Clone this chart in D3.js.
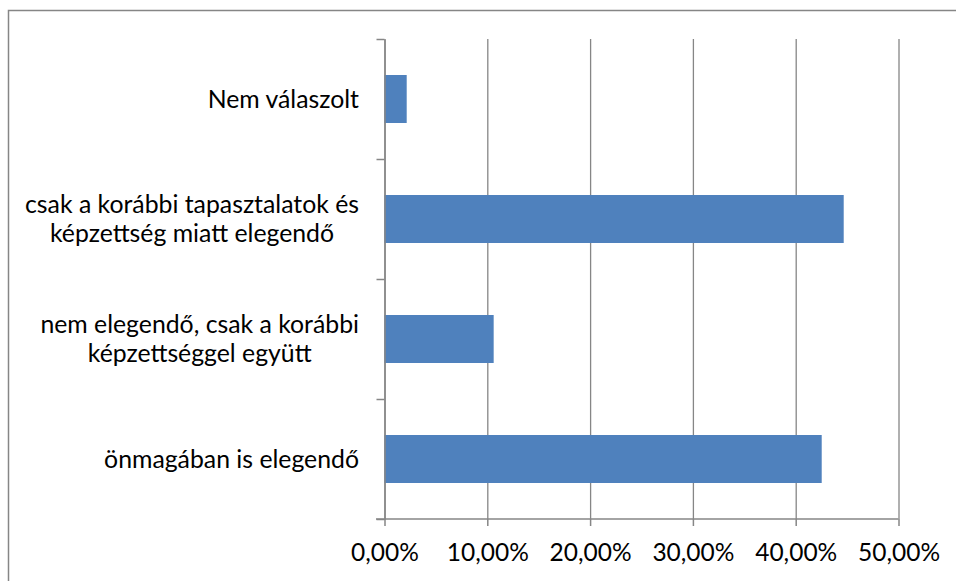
<!DOCTYPE html>
<html>
<head>
<meta charset="utf-8">
<script src="https://cdn.jsdelivr.net/npm/d3@7"></script>
<style>
  body { margin: 0; background: #fff; }
  svg { display: block; }
</style>
</head>
<body>
<div id="chart"></div>
<script>
const w = 956,
    h = 581,
    plotLeft = 384.5,
    plotRight = 898.5,
    plotTop = 39,
    plotBottom = 519,
    axisColor = '#868686',
    barColor = '#4f81bd',
    font = 'Lato, "Liberation Sans", sans-serif';

// data, top to bottom as in the picture
const categories = [
    ['Nem válaszolt'],
    ['csak a korábbi tapasztalatok és', 'képzettség miatt elegendő'],
    ['nem elegendő, csak a korábbi', 'képzettséggel együtt'],
    ['önmagában is elegendő']
];
const values = [0.0216, 0.4467, 0.1062, 0.4253];
const xTicks = [0, 0.1, 0.2, 0.3, 0.4, 0.5];

const svg = d3.select('#chart').append('svg')
    .attr('width', w)
    .attr('height', h);

// outer chart frame (runs off the right and bottom edges)
svg.append('rect')
    .attr('x', 8.5)
    .attr('y', 10.5)
    .attr('width', 960)
    .attr('height', 600)
    .attr('fill', '#fff')
    .attr('stroke', axisColor)
    .attr('stroke-width', 1.5);

const x = d3.scaleLinear().domain([0, 0.5]).range([plotLeft, plotRight]);
const y = d3.scaleBand()
    .domain(d3.range(categories.length))
    .range([plotTop, plotBottom])
    .paddingInner(0.6)
    .paddingOuter(0.3);

const fmt = d => d3.format('.2f')(d * 100).replace('.', ',') + '%';

// vertical gridlines
svg.append('g')
    .attr('transform', 'translate(0,' + plotBottom + ')')
    .call(d3.axisBottom(x).tickValues(xTicks).tickSize(-(plotBottom - plotTop)).tickFormat(''))
    .call(g => g.select('.domain').remove())
    .call(g => g.selectAll('line').attr('stroke', axisColor).attr('stroke-width', 1.3));

// bars
svg.append('g').selectAll('rect')
    .data(values)
    .join('rect')
    .attr('x', x(0))
    .attr('y', (d, i) => y(i))
    .attr('width', d => x(d) - x(0))
    .attr('height', y.bandwidth())
    .attr('fill', barColor);

// y axis: ticks at category boundaries
const yEdge = d3.scaleLinear().domain([0, categories.length]).range([plotTop, plotBottom]);
svg.append('g')
    .attr('transform', 'translate(' + plotLeft + ',0)')
    .call(d3.axisLeft(yEdge).ticks(categories.length).tickSize(8).tickFormat('').tickSizeOuter(0))
    .call(g => g.select('.domain').attr('stroke', axisColor).attr('stroke-width', 1.5))
    .call(g => g.selectAll('line').attr('stroke', axisColor).attr('stroke-width', 1.5));

// x axis
svg.append('g')
    .attr('transform', 'translate(0,' + plotBottom + ')')
    .call(d3.axisBottom(x).tickValues(xTicks).tickSize(7).tickPadding(18).tickFormat(fmt).tickSizeOuter(0))
    .call(g => g.select('.domain').attr('d', 'M376,0H' + plotRight).attr('stroke', axisColor).attr('stroke-width', 1.5))
    .call(g => g.selectAll('line').attr('stroke', axisColor).attr('stroke-width', 1.5))
    .call(g => g.selectAll('text')
        .attr('fill', '#000')
        .style('font-family', font)
        .style('font-size', '24.5px'));

// category labels: block right aligned, lines centred within the block
const lineH = 29;
const labels = svg.append('g')
    .style('font-family', font)
    .style('font-size', '24.8px')
    .attr('fill', '#000');

categories.forEach((lines, i) => {
    const cy = y(i) + y.bandwidth() / 2;
    const t = labels.append('text').attr('text-anchor', 'middle');
    lines.forEach((s, j) => {
        t.append('tspan')
            .attr('x', 0)
            .attr('y', cy + (j - (lines.length - 1) / 2) * lineH)
            .attr('dy', '0.35em')
            .text(s);
    });
    const maxW = d3.max(t.selectAll('tspan').nodes(), n => n.getComputedTextLength());
    t.selectAll('tspan').attr('x', 359 - maxW / 2);
});
</script>
</body>
</html>
